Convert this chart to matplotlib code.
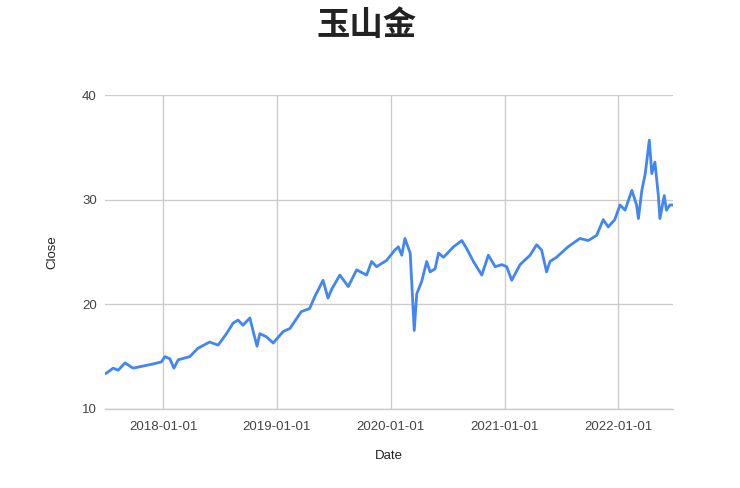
import numpy as np
import pandas as pd
import matplotlib
matplotlib.use('Agg')
import matplotlib.pyplot as plt
import matplotlib.dates as mdates

plt.rcParams['font.family'] = ['Liberation Sans', 'Noto Sans CJK TC', 'DejaVu Sans']

# Closing price (approximate turning points)
dates = ['2017-07-01', '2017-07-24', '2017-08-09', '2017-08-31', '2017-09-26',
         '2017-10-28', '2017-11-29', '2017-12-26', '2018-01-06', '2018-01-22',
         '2018-02-04', '2018-02-18', '2018-03-27', '2018-04-22', '2018-05-30',
         '2018-06-26', '2018-07-23', '2018-08-13', '2018-08-29', '2018-09-14',
         '2018-10-06', '2018-10-16', '2018-10-29', '2018-11-07', '2018-11-28',
         '2018-12-20', '2019-01-21', '2019-02-12', '2019-03-20', '2019-04-16',
         '2019-05-02', '2019-05-29', '2019-06-14', '2019-06-25', '2019-07-22',
         '2019-08-18', '2019-09-14', '2019-10-16', '2019-11-01', '2019-11-17',
         '2019-12-19', '2020-01-15', '2020-01-26', '2020-02-06', '2020-02-16',
         '2020-03-04', '2020-03-17', '2020-03-25', '2020-04-10', '2020-04-26',
         '2020-05-07', '2020-05-23', '2020-06-03', '2020-06-19', '2020-07-21',
         '2020-08-17', '2020-09-02', '2020-09-23', '2020-10-20', '2020-11-10',
         '2020-12-02', '2020-12-23', '2021-01-08', '2021-01-24', '2021-02-20',
         '2021-03-24', '2021-04-14', '2021-04-30', '2021-05-16', '2021-05-27',
         '2021-06-17', '2021-07-24', '2021-08-31', '2021-09-27', '2021-10-24',
         '2021-11-14', '2021-11-30', '2021-12-21', '2022-01-07', '2022-01-23',
         '2022-02-14', '2022-03-01', '2022-03-07', '2022-03-18', '2022-03-29',
         '2022-04-11', '2022-04-19', '2022-04-29', '2022-05-10', '2022-05-15',
         '2022-05-29', '2022-06-05', '2022-06-16', '2022-06-24']
close = [13.4, 13.9, 13.7, 14.4, 13.9,
         14.1, 14.3, 14.5, 15.0, 14.8,
         13.9, 14.7, 15.0, 15.8, 16.4,
         16.1, 17.2, 18.2, 18.5, 18.0,
         18.7, 17.5, 16.0, 17.2, 16.9,
         16.3, 17.4, 17.7, 19.3, 19.6,
         20.7, 22.3, 20.6, 21.4, 22.8,
         21.7, 23.3, 22.8, 24.1, 23.6,
         24.2, 25.2, 25.5, 24.7, 26.3,
         24.9, 17.5, 21.0, 22.2, 24.1,
         23.1, 23.4, 24.9, 24.5, 25.5,
         26.1, 25.3, 24.1, 22.8, 24.7,
         23.6, 23.8, 23.6, 22.3, 23.8,
         24.7, 25.7, 25.2, 23.1, 24.1,
         24.5, 25.5, 26.3, 26.1, 26.6,
         28.1, 27.4, 28.1, 29.5, 29.0,
         30.9, 29.5, 28.2, 30.9, 32.5,
         35.7, 32.5, 33.6, 30.4, 28.2,
         30.4, 29.0, 29.5, 29.5]
yticks = [10, 20, 30, 40]
xticks = ['2018-01-01', '2019-01-01', '2020-01-01', '2021-01-01', '2022-01-01']

df = pd.DataFrame({'Date': pd.to_datetime(dates), 'Close': close})

fig = plt.figure(figsize=(7.4, 4.88), dpi=100)
ax = fig.add_axes([0.142, 0.162, 0.767, 0.643])

ax.plot(df['Date'], df['Close'], color='#4285f4', lw=2.0, zorder=3)

ax.set_xlim(pd.Timestamp('2017-06-28'), pd.Timestamp('2022-06-25'))
ax.set_ylim(10, 40)
ax.set_yticks(yticks)
ax.set_xticks(pd.to_datetime(xticks))
ax.xaxis.set_major_formatter(mdates.DateFormatter('%Y-%m-%d'))
ax.grid(True, color='#cccccc', lw=1)
ax.set_axisbelow(True)
for s in ['top', 'left', 'right']:
    ax.spines[s].set_visible(False)
ax.spines['bottom'].set_color('#cccccc')
ax.spines['bottom'].set_linewidth(1)
ax.tick_params(axis='both', length=0, labelsize=9.5, colors='#444444')
ax.tick_params(axis='x', pad=9)
ax.tick_params(axis='y', pad=6)
ax.set_xlabel('Date', fontsize=9.5, color='#222222', labelpad=12)
ax.set_ylabel('Close', fontsize=9.5, color='#222222', labelpad=17)

fig.text(0.496, 0.947, '玉山金', ha='center', va='center', fontsize=24,
         fontweight='bold', color='#222222')

fig.savefig('out.png', dpi=100)
